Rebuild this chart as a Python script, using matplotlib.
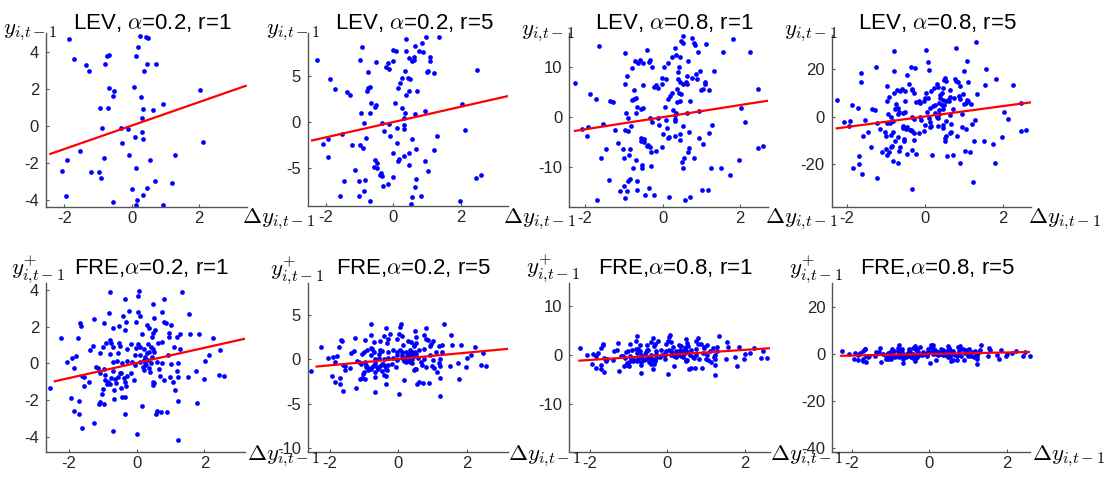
import numpy as np
import matplotlib
matplotlib.use('Agg')
import matplotlib.pyplot as plt

plt.rcParams['font.family'] = ['Liberation Sans', 'DejaVu Sans']
plt.rcParams['mathtext.fontset'] = 'cm'
plt.rcParams['axes.unicode_minus'] = False

# ---------------- data: LEV sample (shared by the four top panels) ----------------
lev_x = [
    -1.86, -1.71, -1.36, -1.28, -0.78, -0.74, -0.68, 0.25, 0.43, 0.48, 0.20, 0.14, 0.45, 0.71, 0.37,
    -0.67, -0.51, -0.55, 0.06, 0.27, -0.95, -0.69, 0.35, 0.64, 0.94, 0.31, -0.88, -0.33, -0.12,
    2.03, 2.12, 0.32, 0.10, 0.33, -0.28, -1.53, -0.09, 1.28, -1.93, -0.81, 0.54,
    -2.07, -1.22, -0.98, -0.90, 0.12, 0.68, 1.20, 0.00, 0.46, 0.33, -1.94, -0.55, 0.16, 0.14, 0.94,
    0.39, 0.97, 1.34, 0.64, 0.86, -0.92, -0.01, 0.08, 0.39, 0.75, 0.89, 0.45, 0.60, 0.54, 0.62,
    1.09, 1.10, -0.02, -0.16, -2.25, -0.98, -0.51, -0.23, -0.13, 2.47, 0.36, 0.99, 1.04, 1.19, -0.74,
    0.46, -0.47, -0.56, -0.49, -1.14, 1.04, -0.37, -0.39, -0.33, -0.02, -0.29, -0.16, -1.46, -1.02,
    -0.83, 0.67, 0.65, -0.87, -1.58, -1.00, 0.81, 0.55, -0.68, 0.51, 1.98, 2.45, 2.58,
    0.52, 0.76, 1.81, -1.65, 0.48, 0.53, 0.80, 0.85, 1.11, 0.32, -0.41, -0.97, 0.91, 1.55, 2.25,
    0.34, 0.24, 0.46, -0.71, -0.58, -0.33, -0.34, 0.65, 0.15, -0.64, -0.50, -0.28, -0.79, 0.03, 0.43,
    0.52, -0.54, -0.53, -0.29, -0.76, 1.25, 1.51, 1.74, -1.39, -0.84, -0.88, -0.65, 1.02,
    1.16, -1.10, -0.91, -1.00, -0.34, -0.46, -0.22, 0.72, 0.17, -1.70, -0.96, 0.57, -0.67,
    1.32, 0.79, 0.03, -0.79, 0.09, 1.07, -1.26, -0.36, -0.25, 1.56, 0.10, -0.79, -1.64, -0.45, 1.01,
    -1.70, -1.62, -1.84, -1.24, -0.34, 0.90, 1.80, 1.22, -0.83, -0.68,
]
lev_y = [
    4.68, 3.59, 3.30, 2.97, 3.37, 3.75, 3.84, 4.83, 4.79, 4.74, 4.27, 3.75, 3.35, 3.35, 2.97,
    2.04, 1.89, 1.62, 2.11, 1.55, 0.95, 0.95, 0.94, 0.86, 1.19, 0.41, -0.09, -0.09, -0.16,
    1.95, -0.88, -0.34, -0.61, -0.72, -0.94, -1.33, -1.55, -1.55, -1.86, -1.71, -1.82,
    -2.43, -2.50, -2.50, -2.79, -2.25, -2.97, -3.10, -3.41, -3.35, -3.73, -3.77, -4.11, -4.00, -4.25, -4.25,
    9.01, 9.31, 9.31, 8.28, 8.58, 8.21, 7.85, 7.74, 7.70, 7.77, 7.59, 7.04, 7.12, 6.68, 6.75,
    7.12, 6.68, 6.64, 6.46, 6.82, 6.72, 6.53, 6.02, 5.84, 5.73, 5.58, 5.47, 5.58, 5.36, 5.44,
    -4.64, -4.45, -4.85, -5.04, -5.22, -5.29, -5.58, -5.77, -5.91, -5.95, -6.97, -6.79, -6.39, -6.42,
    -6.35, -6.24, -7.04, -7.48, -8.07, -8.10, -8.07, -8.14, -8.65, -8.95, -8.65, -6.13, -5.77,
    16.27, 15.93, 15.67, 14.33, 15.27, 14.80, 14.87, 14.40, 14.60, 13.80, 13.53, 12.80, 13.00, 13.07, 13.13,
    12.47, 12.07, 12.00, 11.20, 11.40, 11.47, 11.07, 11.33, 10.93, 10.87, 10.93, 10.00, 9.80, 10.00, 10.07,
    -10.20, -9.53, -10.07, -9.73, -10.20, -10.13, -10.13, -11.53, -12.60, -12.33, -12.73, -12.73, -14.53,
    -14.60, -14.67, -14.67, -13.73, -14.07, -15.60, -15.60, -15.93, -16.00, -16.53, -16.07, -16.53, -14.50,
    31.2, 28.8, 28.0, 27.3, 23.1, 23.2, 20.6, 20.8, 20.4, 20.0, 19.6, 19.2, 18.2, 17.3, 19.2,
    -19.9, -23.8, -21.7, -25.6, -30.3, -19.2, -19.6, -27.3, -18.5, -19.4,
]

# ---------------- data: FRE sample (shared by the four bottom panels) ----------------
fre_x = [
    -0.79, 0.08, 1.33, 0.04, -0.36, 0.80, 0.48, -0.23, 0.03, -0.81,
    0.74, 0.10, -0.41, 1.54, -1.27, 0.51, -0.31, -0.03, -0.97, 0.29,
    0.80, 0.87, 1.02, -1.67, -1.65, -0.70, -0.52, -0.34, 0.36, 0.53,
    0.95, 1.29, 1.57, 1.84, 2.24, -2.25, -1.72, 0.47, 0.15, 0.45,
    0.94, 1.18,
    -0.80, -0.76, -0.91, -0.53, -0.16, 0.05, 0.33, 0.62, 0.75, -1.29,
    -1.38, -1.01, -0.70, -0.49, -0.29, -0.03, 0.10, 0.22, 0.41, 0.49,
    1.10, 1.28, 2.47, 2.13, -1.07, -0.55, -0.79, -0.05, 0.11, 0.37,
    0.30, 0.52, 0.92, -1.79, -1.92, -2.07, -1.85, 0.25, 0.33, 0.45,
    -1.20, -1.15, -0.97, -0.69, -0.57, -0.43, -0.29, -0.15, -0.05, 0.10,
    0.22, 0.25, 0.18, 0.22, 0.35, 0.41, 0.59, 0.74, 1.02, 1.23,
    2.01, 0.28, 0.40,
    -2.56, -1.63, -1.55, -1.40, -1.57, -1.08, -0.93, -0.94, -0.85, -0.79,
    -0.89, -0.63, -0.54, -0.39, -0.29, -0.18, -0.48, -0.69, -0.36, -0.33,
    -0.07, -0.47, -0.67, -0.99, -1.04, -0.75, -0.60, -0.45,
    0.47, 0.52, 0.67, 0.70, 0.82, 0.99, 1.06, 1.20, 1.22, 1.51,
    1.74, 1.98, 2.42, 2.58, 1.14, 0.49,
    -1.07, -1.12, -0.98, -1.95, -1.71, -0.43, -0.35, -0.67, -1.85, -1.71,
    -1.63, -1.25, -0.36, 0.16, 0.56, 0.60, 0.71, 0.89, 1.23, 1.79,
    -0.69, 0.02, 1.23,
]
fre_y = [
    3.91, 3.96, 3.91, 3.67, 3.51, 3.51, 3.22, 2.85, 2.82, 2.76,
    2.78, 2.56, 2.58, 2.69, 2.42, 2.45, 2.27, 2.27, 2.22, 2.09,
    2.27, 2.18, 2.09, 2.18, 2.05, 1.95, 2.04, 1.82, 1.91, 1.82,
    1.67, 1.58, 1.62, 1.62, 1.38, 1.40, 1.36, 1.64, 1.58, 1.45,
    1.45, 1.45,
    1.27, 1.13, 1.09, 1.09, 1.05, 1.05, 1.05, 1.09, 1.16, 0.95,
    0.73, 0.87, 0.87, 0.95, 0.80, 0.82, 0.87, 0.80, 0.87, 0.76,
    0.87, 0.78, 0.73, 0.45, 0.58, 0.58, 0.49, 0.45, 0.47, 0.64,
    0.55, 0.62, 0.45, 0.40, 0.27, 0.09, -0.27, 0.35, 0.20, 0.35,
    -0.18, -0.27, -0.31, 0.05, 0.13, 0.00, 0.15, 0.09, -0.09, 0.09,
    0.18, 0.00, -0.18, -0.36, -0.27, 0.00, 0.09, 0.04, -0.04, 0.04,
    0.15, -0.10, -0.45,
    -1.36, -0.69, -0.76, -1.00, -1.22, -0.55, -0.64, -0.91, -1.00, -1.13,
    -1.15, -0.84, -0.73, -0.78, -0.69, -0.51, -0.51, -0.40, -1.04, -1.22,
    -0.91, -1.36, -1.45, -1.40, -1.67, -0.80, -1.10, -0.55,
    -1.18, -1.09, -0.33, -0.69, -0.91, -0.73, -1.00, -0.40, -0.73, -0.73,
    -0.42, -0.87, -0.64, -0.71, -1.47, -1.04,
    -2.11, -2.22, -2.24, -1.91, -2.07, -1.82, -1.85, -1.96, -2.60, -2.78,
    -3.51, -3.27, -2.76, -2.33, -2.76, -2.60, -2.67, -2.67, -2.05, -2.18,
    -3.69, -3.87, -4.16,
]

# ---------------- panel definitions ----------------
titles = ['LEV, $\\alpha$=0.2, r=1', 'LEV, $\\alpha$=0.2, r=5',
          'LEV, $\\alpha$=0.8, r=1', 'LEV, $\\alpha$=0.8, r=5',
          'FRE,$\\alpha$=0.2, r=1', 'FRE,$\\alpha$=0.2, r=5',
          'FRE,$\\alpha$=0.8, r=1', 'FRE,$\\alpha$=0.8, r=5']
ylabels = ['$y_{i{,}t-1}$'] * 4 + ['$y^{+}_{i{,}t-1}$'] * 4
xlabel = '$\\Delta y_{i{,}t-1}$'

# fitted regression lines (slope, intercept, x-range)
fit_slope = [0.634, 0.836, 1.214, 2.19, 0.413, 0.355, 0.514, 0.33]
fit_intercept = [0.02, 0.0, 0.01, 0.05, 0.02, 0.03, 0.01, 0.0]
fit_xmin = [-2.41, -2.40, -2.26, -2.26, -2.42, -2.39, -2.27, -2.27]
fit_xmax = [3.38, 3.40, 2.73, 2.71, 3.22, 3.19, 2.63, 2.57]

xlims = [(-2.54, 3.41), (-2.53, 3.40), (-2.405, 2.72), (-2.39, 2.71),
         (-2.68, 3.20), (-2.65, 3.22), (-2.53, 2.65), (-2.50, 2.59)]
ylims = [(-4.39, 5.0), (-9.1, 9.68), (-17.9, 16.8), (-37.7, 34.2),
         (-4.84, 4.4), (-10.45, 8.6), (-19.8, 14.7), (-41.7, 30.0)]
yticks = [[-4, -2, 0, 2, 4], [-5, 0, 5], [-10, 0, 10], [-20, 0, 20],
          [-4, -2, 0, 2, 4], [-10, -5, 0, 5], [-10, 0, 10], [-40, -20, 0, 20]]
xticks = [-2, 0, 2]

# ---------------- layout (pixels) ----------------
W, H = 1104, 479
boxes = [(46, 246.7, 33.3, 207.3), (307.7, 508.3, 33.3, 205.5),
         (569.3, 768, 33.3, 206.7), (831.7, 1030.7, 35, 206.7),
         (46, 245, 282.7, 452), (307.7, 508.3, 282.7, 452.3),
         (569.3, 770, 282.7, 452.3), (832.3, 1030, 283.3, 452.3)]
ylab_dx = [11, 12, 6, 6, 19, 16, 11, 11]
ylab_yc = [31.5, 31, 32.5, 32, 269, 270, 268.5, 269]
xlab_dx = [-5, -5, -3, -3, 2, 0, 0, 2]
xlab_top = [206.5] * 4 + [443] * 4
title_base = [29.5] * 4 + [273.7] * 4

axis_col = '#555555'
tick_col = '#262626'

fig = plt.figure(figsize=(W / 100, H / 100), dpi=100)
fig.patch.set_facecolor('white')

for k in range(8):
    l, r, t, b = boxes[k]
    ax = fig.add_axes([l / W, 1 - b / H, (r - l) / W, (b - t) / H])
    ax.patch.set_alpha(0)
    xs = np.array(lev_x if k < 4 else fre_x)
    ys = np.array(lev_y if k < 4 else fre_y)
    x0, x1 = xlims[k]
    y0, y1 = ylims[k]
    m = (ys >= y0) & (ys <= y1) & (xs >= x0) & (xs <= x1)
    ax.plot(xs[m], ys[m], 'o', color='blue', ms=3.4, mew=0, clip_on=False, zorder=2)
    fx = np.array([fit_xmin[k], fit_xmax[k]])
    ax.plot(fx, fit_intercept[k] + fit_slope[k] * fx, color='red', lw=1.6, zorder=3)
    ax.set_xlim(x0, x1)
    ax.set_ylim(y0, y1)
    ax.set_xticks(xticks)
    ax.set_yticks(yticks[k])
    for s in ['top', 'right']:
        ax.spines[s].set_visible(False)
    for s in ['left', 'bottom']:
        ax.spines[s].set_color(axis_col)
        ax.spines[s].set_linewidth(1.0)
    ax.tick_params(direction='in', length=2.5, width=0.8, color=axis_col,
                   labelsize=12, labelcolor=tick_col)
    ax.tick_params(axis='x', pad=3)
    ax.tick_params(axis='y', pad=5)

    # title
    fig.text(((l + r) / 2 + 6) / W, 1 - title_base[k] / H, titles[k],
             ha='center', va='baseline', fontsize=16, color='black')
    # y label at top-left
    fig.text((l + ylab_dx[k]) / W, 1 - ylab_yc[k] / H, ylabels[k],
             ha='right', va='center', fontsize=16.5, color='black')
    # x label at right end of x-axis
    fig.text((r + xlab_dx[k]) / W, 1 - xlab_top[k] / H, xlabel,
             ha='left', va='top', fontsize=16.5, color='black')

fig.savefig('out.png', dpi=100, facecolor='white')
